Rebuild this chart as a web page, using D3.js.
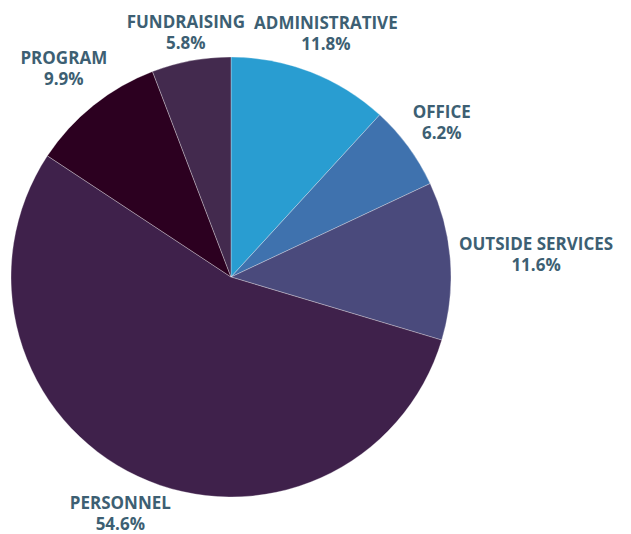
<!DOCTYPE html>
<html><head><meta charset="utf-8">
<script src="https://cdn.jsdelivr.net/npm/d3@7"></script>
<style>html,body{margin:0;padding:0;background:#fff;}</style>
</head><body>
<svg id="chart" width="631" height="534"></svg>
<script>
const categories = ["ADMINISTRATIVE", "OFFICE", "OUTSIDE SERVICES", "PERSONNEL", "PROGRAM", "FUNDRAISING"];
const values = [11.8, 6.2, 11.6, 54.6, 9.9, 5.8];
const colors = ["#299dd1", "#3f72ae", "#4a4a7c", "#3f214b", "#2c0020", "#432a4e"];

const W = 631, H = 534, cx = 231, cy = 277, R = 220;
const svg = d3.select("#chart");
const g = svg.append("g").attr("transform", `translate(${cx},${cy})`);
const data = categories.map((c, i) => ({name: c, value: values[i], color: colors[i]}));
const pie = d3.pie().value(d => d.value).sort(null);
const arcs = pie(data);
const arc = d3.arc().innerRadius(0).outerRadius(R);

g.selectAll("path").data(arcs).join("path")
  .attr("d", arc)
  .attr("fill", d => d.data.color)
  .attr("stroke", "#ffffff")
  .attr("stroke-opacity", 0.5)
  .attr("stroke-width", 0.6);

const fontSize = 17, lineGap = 21, gap = 8, halfH = 17;
arcs.forEach(a => {
  const mid = (a.startAngle + a.endAngle) / 2;
  const s = Math.sin(mid), c = Math.cos(mid);
  const t = g.append("text")
    .attr("text-anchor", "middle")
    .attr("font-family", "'Open Sans', sans-serif")
    .attr("font-weight", 700)
    .attr("font-size", fontSize)
    .attr("fill", "#3d5f73");
  const t1 = t.append("tspan").text(a.data.name);
  const t2 = t.append("tspan").text(d3.format(".1f")(a.data.value) + "%");
  const halfW = Math.max(t1.node().getComputedTextLength(), t2.node().getComputedTextLength()) / 2;
  // find smallest radius so the label box clears the pie by `gap`
  let lo = R * 0.5, hi = R * 2;
  for (let k = 0; k < 40; k++) {
    const r = (lo + hi) / 2;
    const X = Math.abs(r * s), Y = Math.abs(r * c);
    const dx = Math.max(0, X - halfW), dy = Math.max(0, Y - halfH);
    if (Math.hypot(dx, dy) >= R + gap) hi = r; else lo = r;
  }
  const x = hi * s, y = -hi * c;
  t1.attr("x", x).attr("y", y - 4.5);
  t2.attr("x", x).attr("y", y + 16.5);
});
</script>
</body></html>
